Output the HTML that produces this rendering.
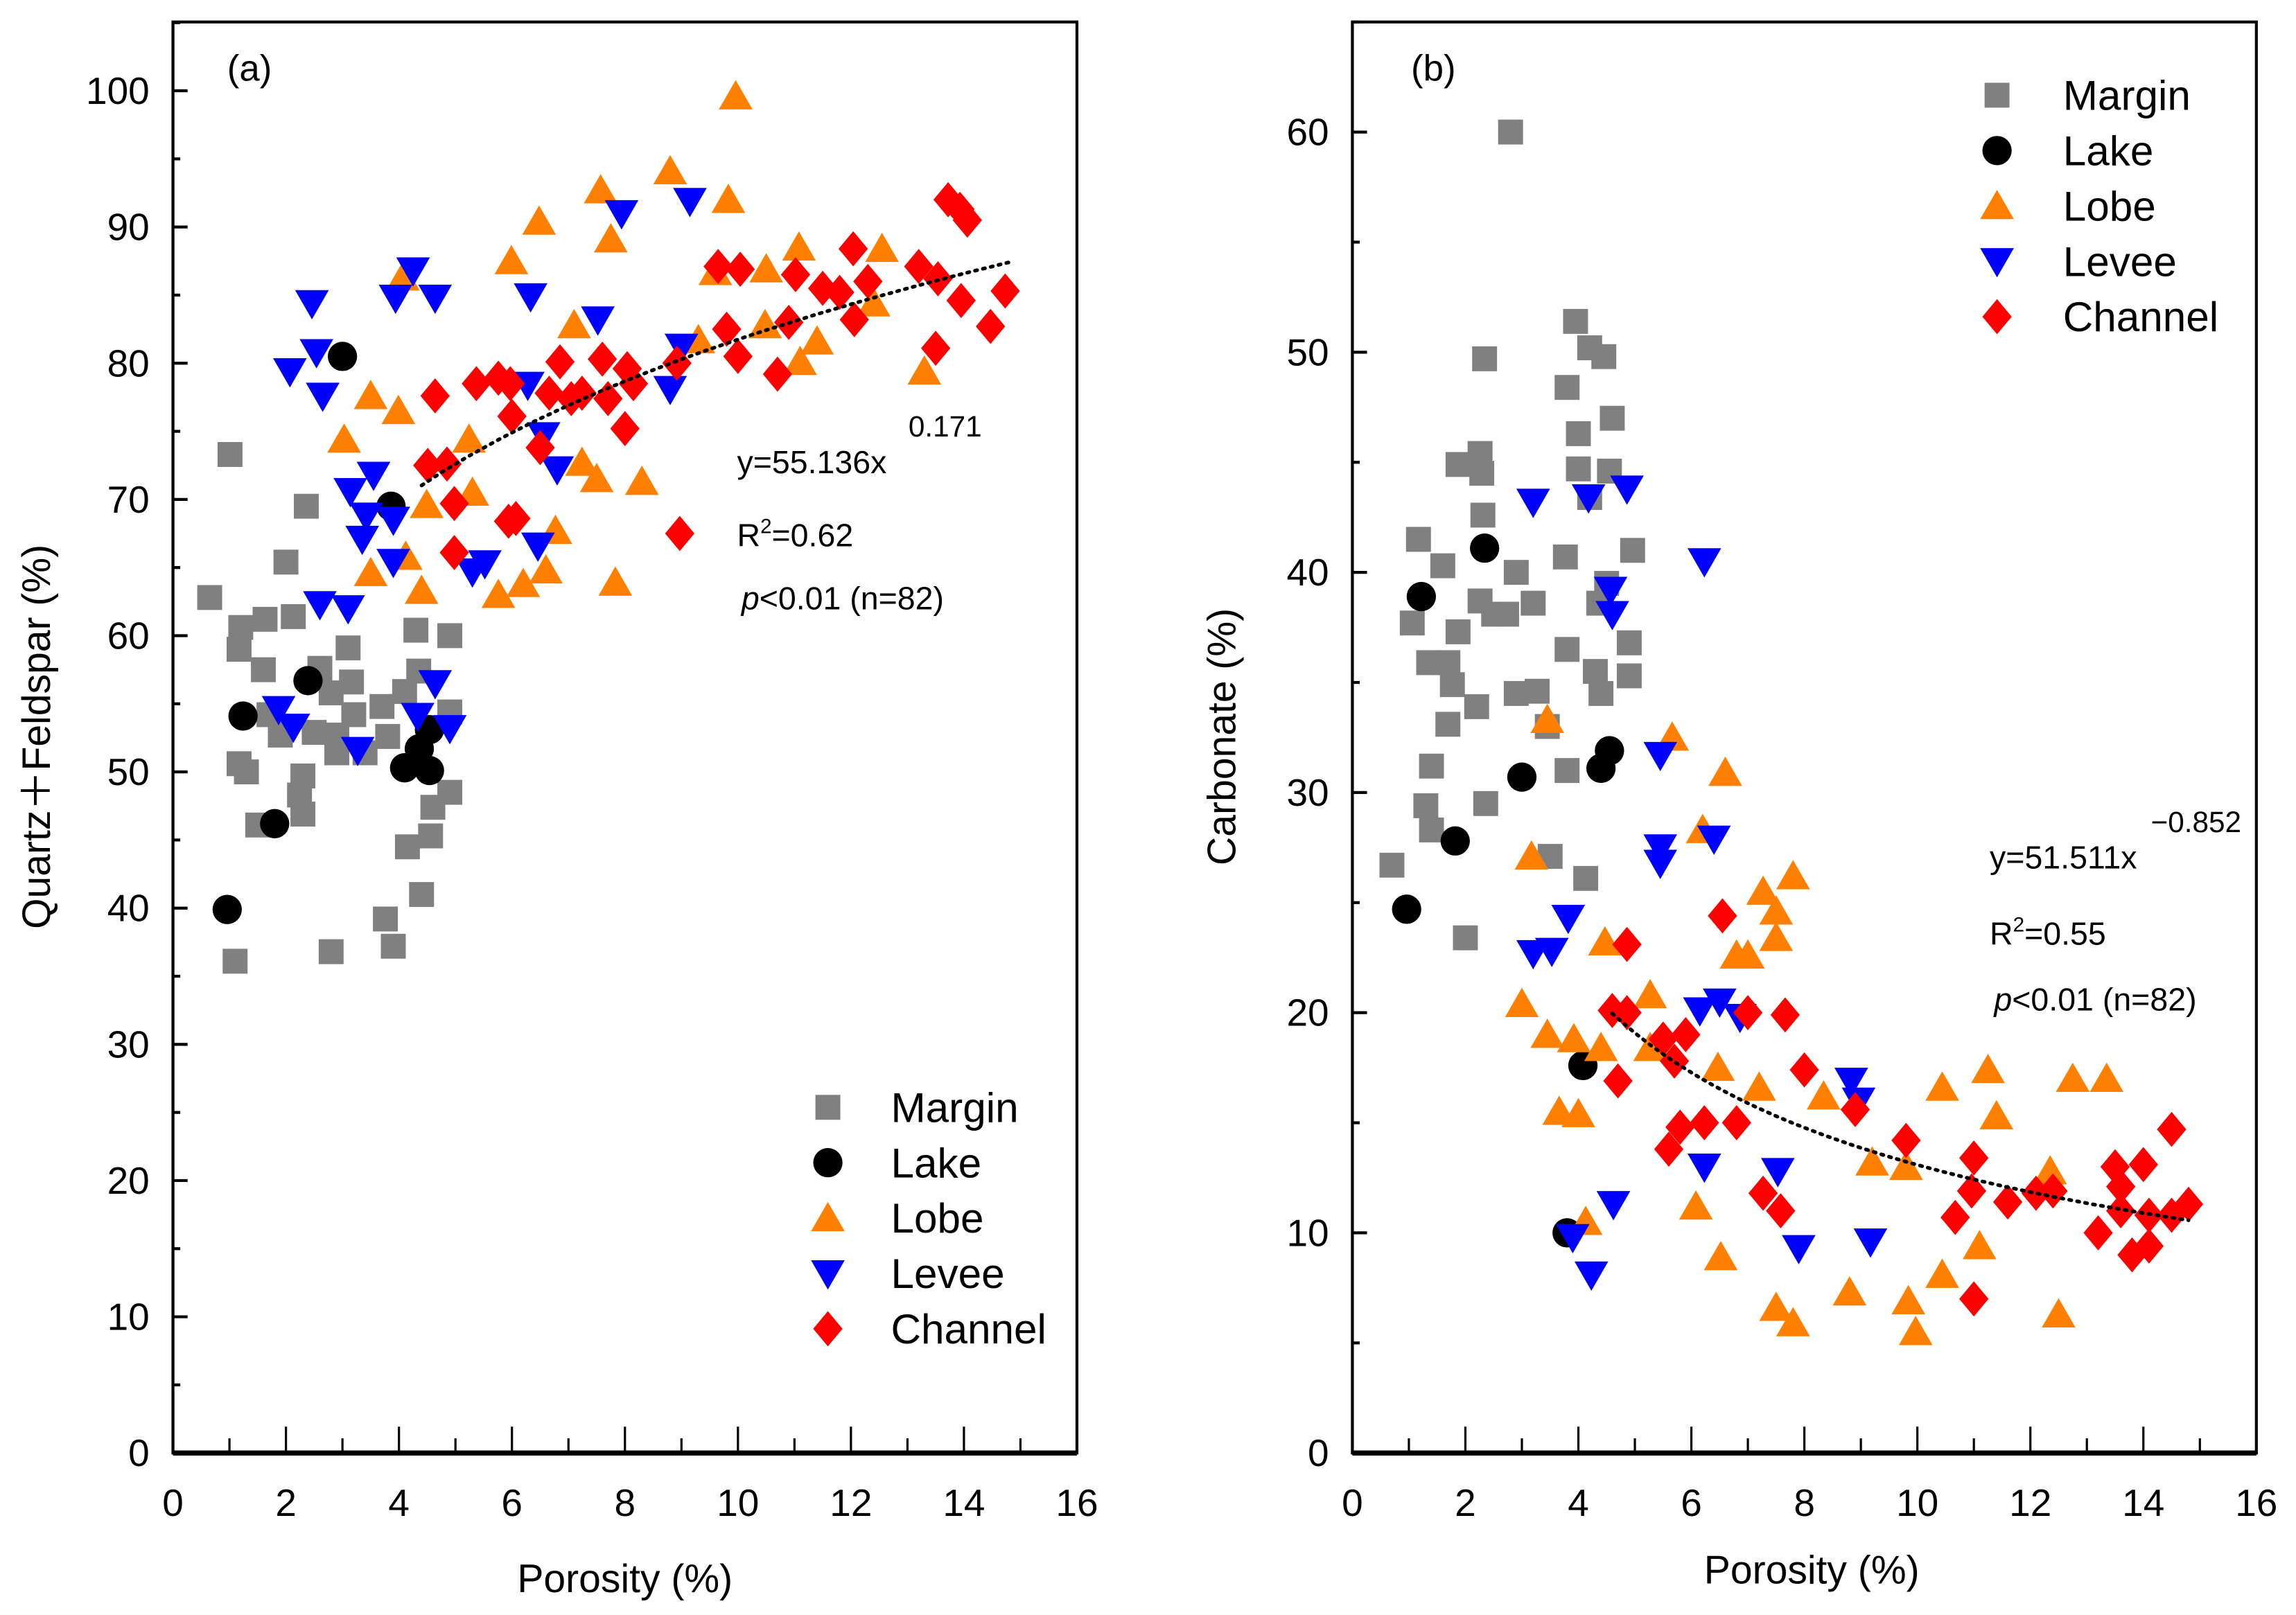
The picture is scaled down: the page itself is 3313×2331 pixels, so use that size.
<!DOCTYPE html>
<html><head><meta charset="utf-8"><style>
html,body{margin:0;padding:0;background:#fff;}
svg{display:block;font-family:"Liberation Sans",Arial,sans-serif;}
</style></head><body>
<svg id="chart" width="3313" height="2331" viewBox="0 0 1567 1102.6" xmlns="http://www.w3.org/2000/svg">
<rect width="1567" height="1102.6" fill="#fff"/>
<g id="pa"></g>
<g id="pb"></g>
</svg>
<script>
// Panel (a) data: [porosity, quartz+feldspar]
const aMarginX=[1.01,0.65,2.0,2.36,1.2,1.17,1.63,2.13,1.6,3.1,2.6,3.16,2.8,1.7,1.9,2.5,2.9,3.2,2.9,3.4,3.7,3.8,4.1,4.3,4.35,4.9,4.9,1.17,1.3,2.3,2.24,2.3,1.5,4.6,4.9,4.56,4.15,4.4,3.76,3.9,2.8,1.1];
const aMarginY=[73.3,62.8,65.4,69.5,60.6,59.0,61.2,61.4,57.5,59.1,57.6,56.6,55.8,54.2,52.7,52.9,52.7,54.2,51.4,51.4,54.8,52.6,55.9,60.4,57.4,60.0,54.4,50.6,50.0,49.7,48.3,46.9,46.1,47.4,48.5,45.3,44.5,41.0,39.2,37.2,36.8,36.1];
const aLakeX=[0.96,1.24,1.8,2.39,3.0,3.86,4.1,4.36,4.54,4.54];
const aLakeY=[39.9,54.1,46.2,56.7,80.5,69.5,50.3,51.7,50.1,53.1];
const aLobeX=[9.96,8.8,7.57,9.83,6.48,7.75,11.08,12.55,5.99,10.5,9.6,4.07,7.1,10.48,11.4,9.3,11.1,12.4,13.3,3.5,3.99,3.03,5.24,7.24,7.5,8.3,5.3,4.49,6.77,4.12,3.5,6.6,6.2,5.76,7.83,4.4];
const aLobeY=[99.6,94.1,92.7,92.0,90.4,89.1,88.5,88.4,87.5,86.9,86.7,86.3,82.8,82.8,81.6,81.7,80.1,84.4,79.4,77.6,76.5,74.4,74.4,72.7,71.5,71.3,70.5,69.6,67.7,65.8,64.6,64.8,63.8,63.0,63.9,63.3];
const aLeveeX=[2.46,2.54,2.07,2.65,4.25,3.94,4.64,6.33,7.94,9.15,7.52,6.28,9.0,8.8,6.56,6.8,3.14,3.55,3.42,3.9,3.35,3.9,2.6,3.1,6.46,5.52,5.3,1.87,2.13,3.27,4.33,4.64,4.9];
const aLeveeY=[84.4,80.8,79.4,77.6,86.8,84.8,84.8,84.9,91.0,91.9,83.2,78.4,81.2,78.1,74.7,72.2,70.6,71.8,68.8,68.5,67.1,65.4,62.3,62.0,66.6,65.3,64.7,54.6,53.3,51.6,54.1,56.5,53.2];
const aChannelX=[4.64,4.51,4.85,4.98,4.98,5.37,5.76,5.97,6.0,5.94,6.07,6.5,6.66,6.85,7.05,7.24,7.6,7.7,8.0,8.04,8.15,8.97,8.92,9.65,10.04,9.8,10.0,10.7,10.9,11.02,11.5,11.8,12.04,12.06,12.3,13.2,13.54,13.72,13.93,14.06,13.95,13.5,14.47,14.73];
const aChannelY=[77.6,72.5,72.6,69.7,66.1,78.5,78.9,78.5,76.1,68.4,68.6,73.8,77.8,80.1,77.4,77.8,80.3,77.4,75.2,79.6,78.5,67.5,80.0,87.1,86.9,82.5,80.5,79.2,83.0,86.5,85.5,85.2,88.4,83.2,86.0,87.1,86.2,92.0,91.3,90.5,84.6,81.1,82.7,85.3];
const aFit=[55.136,0.171];
const aFitRange=[4.4,14.8];
// Panel (b) data: [porosity, carbonate]
const bMarginX=[2.8,3.95,4.2,4.45,2.34,4.0,4.6,3.8,4.55,4.0,4.2,2.26,1.87,2.29,2.31,1.17,1.6,2.9,4.96,3.77,1.06,2.26,2.5,2.73,3.2,1.87,4.36,4.5,4.9,3.8,1.35,1.69,1.77,4.3,4.4,4.9,2.9,3.27,2.2,1.69,3.45,1.4,3.8,1.3,1.4,2.36,3.5,0.7,4.13,2.0];
const bMarginY=[60.0,51.4,50.2,49.8,49.7,46.3,47.0,48.4,44.6,44.7,43.4,45.4,44.9,44.5,42.6,41.5,40.3,40.0,41.0,40.7,37.7,38.7,38.1,38.1,38.6,37.3,38.6,39.5,36.8,36.5,35.9,35.9,34.9,35.5,34.5,35.3,34.5,34.6,33.9,33.1,33.0,31.2,31.0,29.4,28.3,29.5,27.1,26.7,26.1,23.4];
const bLakeX=[1.22,2.34,3.0,4.55,4.4,1.82,0.96,4.08,3.8];
const bLakeY=[38.9,41.1,30.7,31.9,31.1,27.8,24.7,17.6,10.0];
const bLobeX=[5.66,3.45,6.6,6.2,3.17,7.8,7.27,7.5,4.47,7.5,6.8,7.0,3.0,5.27,3.45,3.92,4.4,5.27,6.47,7.2,3.66,4.0,8.34,11.25,11.4,10.44,12.75,13.35,6.08,6.52,4.13,11.1,9.8,9.2,12.35,10.44,8.8,9.84,7.5,7.8,9.97,12.5];
const bLobeY=[32.5,33.3,30.9,28.3,27.1,26.2,25.5,24.6,23.2,23.4,22.6,22.6,20.4,20.8,19.0,18.8,18.4,18.4,17.5,16.6,15.5,15.4,16.2,17.4,15.3,16.6,17.0,17.0,11.2,8.9,10.5,9.4,13.0,13.2,12.8,8.1,7.3,6.9,6.6,5.9,5.5,6.3];
const bLeveeX=[3.2,4.18,4.86,6.23,4.57,4.6,5.45,6.4,5.45,5.45,3.82,3.2,3.53,6.15,6.5,6.86,8.83,8.96,6.23,7.53,4.62,7.9,9.17,3.9,4.23];
const bLeveeY=[43.2,43.4,43.8,40.5,39.2,38.1,31.7,27.9,27.5,26.8,24.3,22.7,22.8,20.1,20.5,19.8,16.9,16.0,13.0,12.8,11.3,9.3,9.6,9.8,8.1];
const bChannelX=[4.86,4.6,4.86,4.7,5.5,5.7,5.9,5.6,5.8,6.23,6.8,6.55,7.0,7.66,7.27,7.58,8.0,8.9,9.8,10.67,10.96,11.0,11.0,11.6,12.1,12.4,13.2,13.5,13.6,13.6,14.0,13.8,14.1,14.1,14.5,14.8,14.5];
const bChannelY=[23.1,20.1,20.0,16.9,18.8,17.8,19.0,13.8,14.8,15.0,15.0,24.4,20.0,19.9,11.8,11.0,17.4,15.6,14.2,10.7,11.9,13.4,7.0,11.4,11.8,11.9,10.0,13.0,12.1,11.0,13.1,9.0,9.4,10.8,10.8,11.3,14.7];
// curve as drawn in the figure
const bFit=[45.8,-0.544];
const bFitRange=[4.6,14.8];
const xTicks=[0,2,4,6,8,10,12,14,16];
const aYTicks=[0,10,20,30,40,50,60,70,80,90,100];
const bYTicks=[0,10,20,30,40,50,60];
const legendLabels=["Margin","Lake","Lobe","Levee","Channel"];

const NS="http://www.w3.org/2000/svg";
function mk(tag,attrs,parent){const e=document.createElementNS(NS,tag);for(const k in attrs)e.setAttribute(k,attrs[k]);parent.appendChild(e);return e;}
const COLORS={Margin:"#808080",Lake:"#000000",Lobe:"#ff8000",Levee:"#0000ff",Channel:"#ff0000"};
function marker(type,cx,cy,parent){
  let e;
  if(type==="Margin"){e=mk("rect",{x:cx-8.5,y:cy-8.5,width:17,height:17,fill:COLORS.Margin},parent);}
  else if(type==="Lake"){e=mk("circle",{cx:cx,cy:cy,r:10,fill:"#000"},parent);}
  else if(type==="Lobe"){e=mk("polygon",{points:`${cx},${cy-11} ${cx-11.5},${cy+9} ${cx+11.5},${cy+9}`,fill:COLORS.Lobe},parent);}
  else if(type==="Levee"){e=mk("polygon",{points:`${cx},${cy+11} ${cx-11.5},${cy-9} ${cx+11.5},${cy-9}`,fill:COLORS.Levee},parent);}
  else {e=mk("polygon",{points:`${cx},${cy-12} ${cx+10},${cy} ${cx},${cy+12} ${cx-10},${cy}`,fill:COLORS.Channel},parent);}
  return e;
}
function panel(g,cfg){
  const {L,R,T,B,ymax,yMinor,yTicks,series,fit,fitRange,label,lbl,legend,yTitle,xTitleY,eq}=cfg;
  const sx=v=>L+(R-L)*v/16, sy=v=>B-(B-T)*v/ymax;
  const frame=mk("rect",{x:L,y:T,width:R-L,height:B-T,fill:"none",stroke:"#000","stroke-width":2},g);
  
  
  const xa=mk("line",{x1:L,x2:R,y1:B,y2:B,stroke:"#000","stroke-width":3.5},g);
  
  
  for(let v=0;v<=16;v++){
    const len=v%2===0?18:10;
    mk("line",{x1:sx(v),x2:sx(v),y1:B,y2:B-len,stroke:"#000","stroke-width":1.5},g);
  }
  xTicks.forEach(v=>{
    const t=mk("text",{x:sx(v),y:B+43,"font-size":26,"text-anchor":"middle"},g);t.textContent=v;
    
    
  });
  for(let v=0;v<=ymax;v+=yMinor){
    const major=yTicks.includes(v);
    mk("line",{x1:L,x2:L+(major?10:5),y1:sy(v),y2:sy(v),stroke:"#000","stroke-width":2},g);
  }
  yTicks.forEach(v=>{
    const t=mk("text",{x:L-16,y:sy(v)+9,"font-size":26,"text-anchor":"end"},g);t.textContent=v;
    
    
  });
  const xt=mk("text",{x:(L+R)/2+(lbl==="a"?0:5),y:xTitleY,"font-size":27,"text-anchor":"middle"},g);xt.textContent="Porosity (%)";
  
  
  const yt=mk("text",{x:0,y:0,"font-size":27,"text-anchor":"middle",transform:`translate(${yTitle[0]},${yTitle[1]}) rotate(-90)`},g);yt.textContent=yTitle[2];
  
  
  const pl=mk("text",{x:label[0],y:label[1],"font-size":25},g);pl.textContent=`(${lbl})`;
  
  
  series.forEach(s=>{
    const sg=mk("g",{},g);
    
    
    s.x.forEach((xv,i)=>{
      const m=marker(s.name,sx(xv),sy(s.y[i]),sg);
      
      
    });
  });
  let d="";
  for(let i=0;i<=60;i++){const xv=fitRange[0]+(fitRange[1]-fitRange[0])*i/60;const yv=fit[0]*Math.pow(xv,fit[1]);d+=(i?"L":"M")+sx(xv).toFixed(1)+","+sy(yv).toFixed(1);}
  const fl=mk("path",{d:d,fill:"none",stroke:"#000","stroke-width":2.5,"stroke-dasharray":"1.5 4","stroke-linecap":"round"},g);
  
  
  const e1=mk("text",{x:eq.x,y:eq.y1,"font-size":22},g);e1.textContent=eq.base;
  
  
  const e1s=mk("text",{x:eq.sx,y:eq.y1-25,"font-size":20},g);e1s.textContent=eq.exp;
  
  
  const e2=mk("text",{x:eq.x,y:eq.y2,"font-size":22},g);
  e2.innerHTML=`R<tspan font-size="14" dy="-9">2</tspan><tspan dy="9">=${eq.r2}</tspan>`;
  
  
  const e3=mk("text",{x:eq.x+3,y:eq.y3,"font-size":22},g);
  e3.innerHTML=`<tspan font-style="italic">p</tspan>&lt;0.01 (n=82)`;
  
  
  const lg=mk("g",{},g);
  
  
  legendLabels.forEach((n,i)=>{
    const y=legend.y+i*legend.dy;
    const m=marker(n,legend.mx,y,lg);
    
    
    const t=mk("text",{x:legend.tx,y:y+10,"font-size":28.5},lg);t.textContent=n;
    
    
  });
}
panel(document.getElementById("pa"),{L:118,R:735,T:15,B:992,ymax:105.05,yMinor:5,yTicks:aYTicks,
  series:[{name:"Margin",x:aMarginX,y:aMarginY},{name:"Lake",x:aLakeX,y:aLakeY},{name:"Lobe",x:aLobeX,y:aLobeY},{name:"Levee",x:aLeveeX,y:aLeveeY},{name:"Channel",x:aChannelX,y:aChannelY}],
  fit:aFit,fitRange:aFitRange,label:[155,55],lbl:"a",legend:{mx:565,tx:608,y:756,dy:37.8},
  yTitle:[34,503,"Quartz＋Feldspar (%)"],xTitleY:1087,
  eq:{x:503,y1:323,sx:620,base:"y=55.136x",exp:"0.171",y2:373,y3:416,r2:"0.62"}});
panel(document.getElementById("pb"),{L:923,R:1540,T:15,B:992,ymax:65.0,yMinor:5,yTicks:bYTicks,
  series:[{name:"Margin",x:bMarginX,y:bMarginY},{name:"Lake",x:bLakeX,y:bLakeY},{name:"Lobe",x:bLobeX,y:bLobeY},{name:"Levee",x:bLeveeX,y:bLeveeY},{name:"Channel",x:bChannelX,y:bChannelY}],
  fit:bFit,fitRange:bFitRange,label:[963,55],lbl:"b",legend:{mx:1363,tx:1408,y:65,dy:37.8},
  yTitle:[843,503,"Carbonate (%)"],xTitleY:1081,
  eq:{x:1358,y1:593,sx:1468,base:"y=51.511x",exp:"−0.852",y2:645,y3:690,r2:"0.55"}});
</script>
</body></html>
